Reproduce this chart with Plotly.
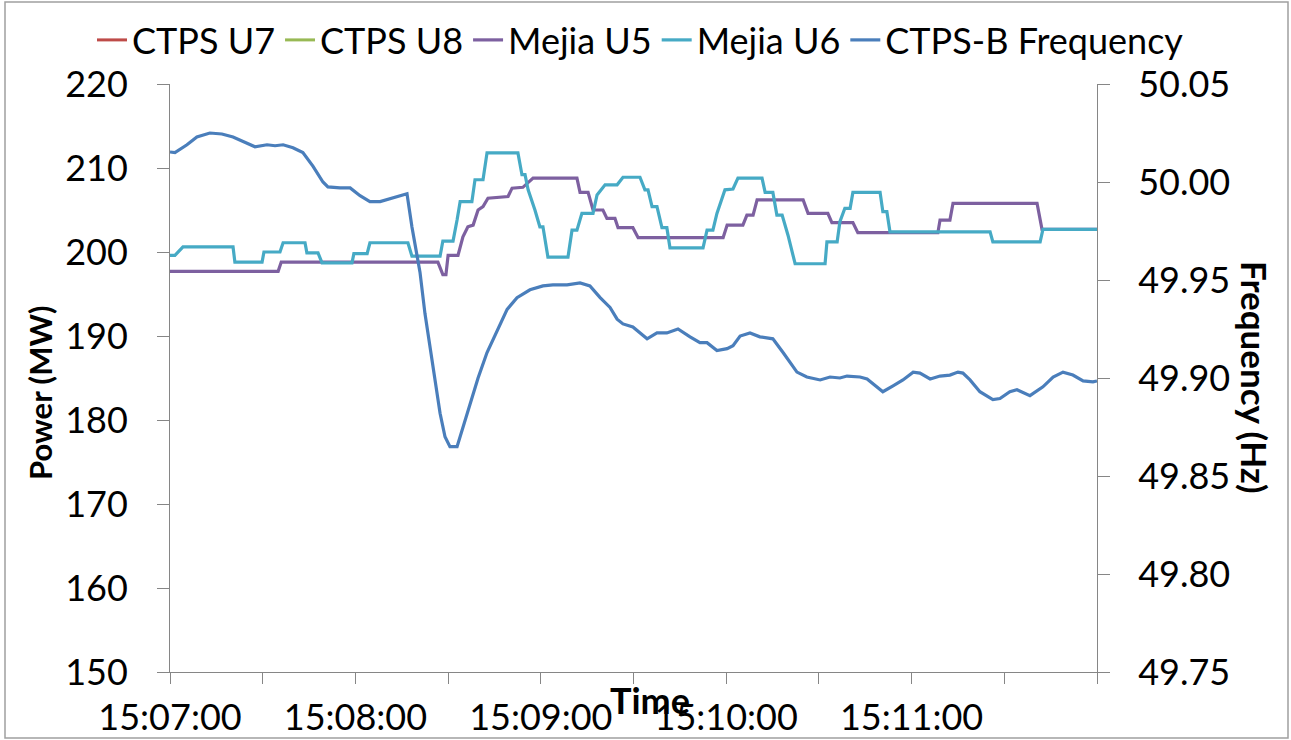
import plotly.graph_objects as go

# ---- Data (time in seconds after 15:07:00) ----
tick_seconds = [0, 30, 60, 90, 120, 150, 180, 210, 240, 270, 300]
tick_labels = ["15:07:00", "", "15:08:00", "", "15:09:00", "", "15:10:00", "", "15:11:00", "", ""]

# CTPS U7 / U8 appear only in the legend (no visible line in the plot area)
ctps_u7_t = [None]
ctps_u7_mw = [None]
ctps_u8_t = [None]
ctps_u8_mw = [None]

mejia_u5_t = [0, 35, 36, 86.7, 88.3, 89.3, 90, 93.2, 94.8, 96.4, 98.1, 99.7, 101.3, 102.9,
              109.4, 110.7, 114.2, 117.5, 131.7, 132.7, 135.3, 136.9, 140.1, 141.4, 144.0,
              145.0, 149.8, 151.5, 179.0, 180.3, 185.4, 186.7, 188.7, 190.0, 204.9, 206.5,
              212.9, 214.2, 221.0, 222.6, 248.5, 249.2, 252.4, 253.4, 280.6, 282.2, 300]
mejia_u5_mw = [197.7, 197.7, 198.8, 198.8, 197.3, 197.3, 199.6, 199.6, 201.8, 203.0, 203.2, 205.0,
               205.4, 206.4, 206.6, 207.6, 207.7, 208.8, 208.8, 207.1, 207.1, 205.0, 205.0, 204.0,
               204.0, 202.9, 202.9, 201.7, 201.7, 203.2, 203.2, 204.4, 204.4, 206.2, 206.2, 204.6,
               204.6, 203.5, 203.5, 202.3, 202.3, 203.8, 203.8, 205.8, 205.8, 202.7, 202.7]

mejia_u6_t = [0, 1.6, 4.2, 20.4, 21.0, 29.8, 30.4, 35.6, 36.6, 43.7, 44.3, 47.9, 49.2, 58.9,
              59.5, 63.8, 64.7, 77.0, 78.3, 87.4, 88.3, 91.6, 92.9, 93.9, 97.7, 98.7, 101.3,
              102.6, 112.6, 113.9, 114.9, 115.9, 118.1, 119.7, 120.7, 122.3, 128.8, 130.1,
              131.7, 133.3, 136.9, 138.2, 140.8, 144.7, 146.6, 152.1, 153.7, 154.7, 156.0,
              157.6, 159.2, 160.8, 161.8, 172.5, 173.8, 175.7, 177.0, 179.6, 182.2, 183.8,
              191.6, 192.6, 195.1, 196.4, 198.1, 200.0, 202.3, 212.0, 212.6, 215.9, 216.8,
              218.4, 220.1, 221.0, 229.8, 230.7, 232.0, 233.0, 265.4, 266.3, 281.6, 282.5, 300]
mejia_u6_mw = [199.6, 199.6, 200.6, 200.6, 198.8, 198.8, 200.0, 200.0, 201.1, 201.1, 199.9, 199.9,
               198.7, 198.7, 199.8, 199.8, 201.1, 201.1, 199.5, 199.5, 201.3, 201.3, 203.8, 206.0,
               206.0, 208.6, 208.6, 211.8, 211.8, 209.2, 209.2, 207.4, 205.0, 203.0, 203.0, 199.4,
               199.4, 202.6, 202.6, 204.6, 204.6, 206.8, 208.0, 208.0, 208.9, 208.9, 207.4, 207.4,
               205.4, 205.4, 202.9, 202.9, 200.5, 200.5, 202.6, 202.6, 204.6, 207.4, 207.5, 208.8,
               208.8, 207.1, 207.1, 204.4, 204.4, 202.0, 198.6, 198.6, 201.2, 201.2, 203.6,
               205.2, 205.2, 207.1, 207.1, 204.8, 204.8, 202.4, 202.4, 201.2, 201.2, 202.7, 202.7]

freq_t = [0, 1.6, 5.5, 8.7, 12.9, 16.8, 20.4, 24.9, 27.5, 31.4, 34.0, 36.6, 39.8, 43.0, 46.3,
          49.5, 51.1, 55.0, 58.3, 61.5, 64.7, 68.0, 72.2, 76.7, 78.3, 80.9, 82.5, 84.1, 85.8,
          87.4, 89.0, 90.6, 92.9, 94.8, 97.1, 99.7, 102.6, 105.8, 109.1, 112.3, 116.5, 120.7,
          123.9, 128.5, 132.7, 135.9, 139.2, 142.4, 144.7, 146.6, 149.8, 154.4, 157.6, 160.8,
          164.4, 168.3, 171.5, 173.8, 177.0, 180.3, 182.2, 184.5, 187.7, 190.9, 195.1, 198.4,
          202.9, 206.1, 210.4, 213.6, 216.8, 219.1, 223.3, 225.6, 228.8, 230.7, 234.0, 237.2,
          240.5, 242.7, 246.0, 249.2, 252.4, 255.0, 256.6, 258.9, 262.1, 266.3, 268.6, 271.8,
          274.1, 278.3, 282.5, 285.8, 289.0, 292.2, 295.5, 298.7, 300]
freq_hz = [50.0153, 50.015, 50.019, 50.023, 50.025, 50.0245, 50.023, 50.020, 50.018, 50.019,
           50.0185, 50.019, 50.0175, 50.015, 50.008, 50.000, 49.9975, 49.997, 49.997, 49.993,
           49.990, 49.990, 49.992, 49.994, 49.977, 49.954, 49.933, 49.916, 49.899, 49.882,
           49.870, 49.865, 49.865, 49.875, 49.887, 49.900, 49.913, 49.924, 49.935, 49.941,
           49.945, 49.947, 49.9475, 49.9475, 49.9485, 49.947, 49.941, 49.936, 49.930, 49.9276,
           49.926, 49.920, 49.923, 49.923, 49.925, 49.921, 49.918, 49.918, 49.914, 49.915,
           49.9165, 49.9214, 49.923, 49.921, 49.920, 49.913, 49.903, 49.9005, 49.899, 49.9005,
           49.900, 49.901, 49.9005, 49.8995, 49.8955, 49.893, 49.896, 49.899, 49.903, 49.9025,
           49.8995, 49.901, 49.9015, 49.903, 49.9025, 49.899, 49.893, 49.889, 49.8895, 49.893,
           49.894, 49.891, 49.8955, 49.9005, 49.903, 49.9015, 49.8985, 49.898, 49.8985]

# ---- Figure ----
FONT = "Lato"
AX = "#868686"
FS = 36
fig = go.Figure()
fig.add_trace(go.Scatter(x=ctps_u7_t, y=ctps_u7_mw, name="CTPS U7", mode="lines",
                         line=dict(color="#BE4B48", width=3)))
fig.add_trace(go.Scatter(x=ctps_u8_t, y=ctps_u8_mw, name="CTPS U8", mode="lines",
                         line=dict(color="#98B954", width=3)))
fig.add_trace(go.Scatter(x=mejia_u5_t, y=mejia_u5_mw, name="Mejia U5", mode="lines",
                         line=dict(color="#7D60A0", width=3.2)))
fig.add_trace(go.Scatter(x=mejia_u6_t, y=mejia_u6_mw, name="Mejia U6", mode="lines",
                         line=dict(color="#46AAC5", width=3.2)))
fig.add_trace(go.Scatter(x=freq_t, y=freq_hz, name="CTPS-B Frequency", mode="lines",
                         line=dict(color="#4A7EBB", width=3.2), yaxis="y2"))

L, R, T, B = 170, 1097, 84, 672
W, H = 1291, 740
pw, ph = R - L, B - T

def px(x):
    return (x - L) / pw

def py(y):
    return (B - y) / ph

fig.update_layout(
    width=W, height=H,
    margin=dict(l=L, r=W - R, t=T, b=H - B, autoexpand=False),
    paper_bgcolor="white", plot_bgcolor="white",
    font=dict(family=FONT, size=FS, color="black"),
    showlegend=True,
    legend=dict(orientation="h", x=px(92), xanchor="left", y=py(40), yanchor="middle",
                font=dict(size=FS), itemwidth=30, tracegroupgap=0, bgcolor="rgba(0,0,0,0)"),
    xaxis=dict(range=[0, 300], tickmode="array", tickvals=tick_seconds, ticktext=tick_labels,
               showgrid=False, zeroline=False, showline=True, linecolor=AX, linewidth=1,
               ticks="outside", ticklen=11, tickcolor=AX, tickfont=dict(size=FS),
               ticklabelstandoff=3),
    yaxis=dict(range=[150, 220], dtick=10, tick0=150, showgrid=False, zeroline=False,
               showline=True, linecolor=AX, linewidth=1, ticks="outside", ticklen=12,
               tickcolor=AX, tickfont=dict(size=FS), ticklabelstandoff=22),
    yaxis2=dict(range=[49.75, 50.05], dtick=0.05, tick0=49.75, tickformat=".2f",
                overlaying="y", side="right", showgrid=False, zeroline=False,
                showline=True, linecolor=AX, linewidth=1, ticks="outside", ticklen=12,
                tickcolor=AX, tickfont=dict(size=FS), ticklabelstandoff=21),
    annotations=[
        dict(text="<b>Power (MW)</b>", x=px(40), y=py(393), xref="paper", yref="paper",
             textangle=-90, showarrow=False, font=dict(size=31), xanchor="center", yanchor="middle"),
        dict(text="<b>Frequency (Hz)</b>", x=px(1255), y=py(377), xref="paper", yref="paper",
             textangle=90, showarrow=False, font=dict(size=35), xanchor="center", yanchor="middle"),
        dict(text="<b>Time</b>", x=px(650), y=py(700), xref="paper", yref="paper",
             showarrow=False, font=dict(size=36), xanchor="center", yanchor="middle"),
    ],
    shapes=[dict(type="rect", xref="paper", yref="paper", x0=px(5), x1=px(1288), y0=py(738),
                 y1=py(2), line=dict(color="#A0A0A0", width=1.5), layer="below")],
)

fig.write_html("out.html", config={"displayModeBar": False},
               post_script="document.body.style.margin='0';document.body.style.padding='0';")
